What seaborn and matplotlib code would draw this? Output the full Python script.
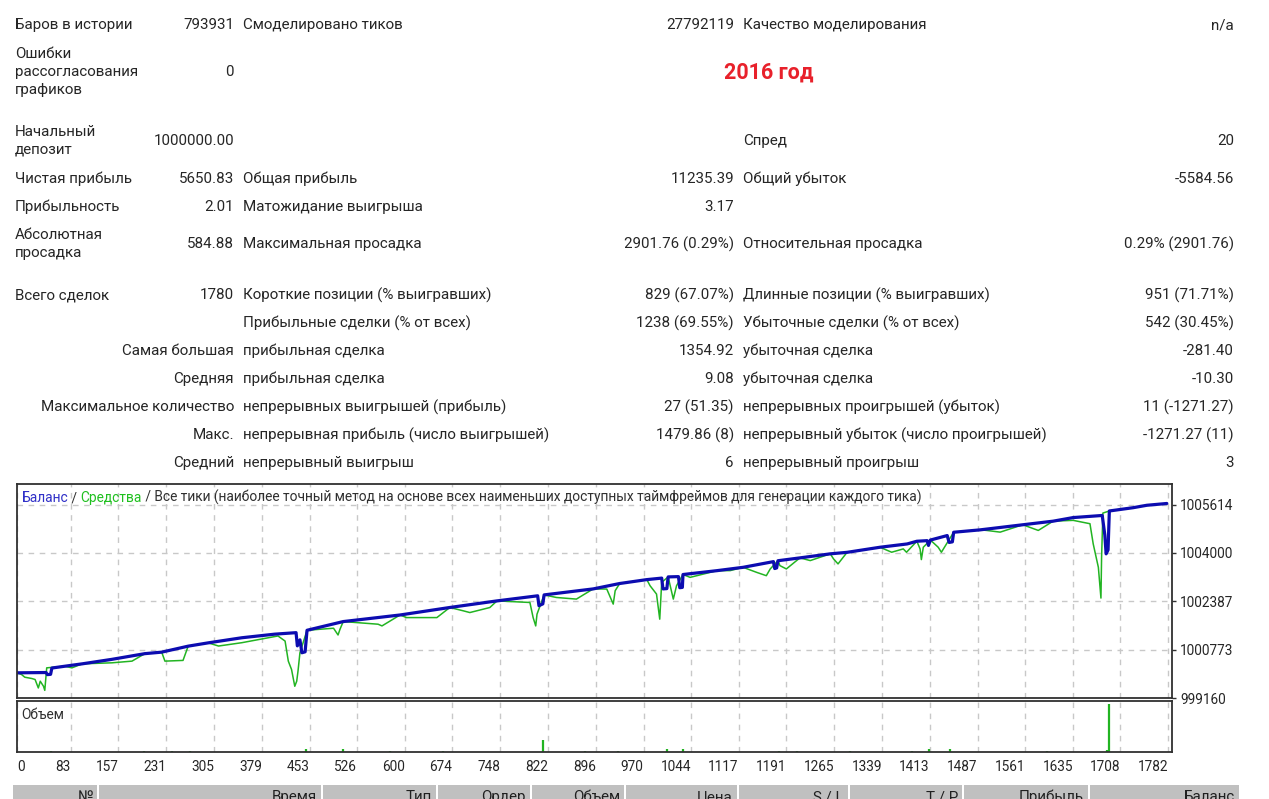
import numpy as np
import pandas as pd
import matplotlib
matplotlib.use("Agg")
import matplotlib.pyplot as plt
import seaborn as sns
from matplotlib.patches import Rectangle

# ---- данные отчёта тестера ----
labels_a = ["Баров в истории", "Ошибки\nрассогласования\nграфиков", "Начальный\nдепозит", "Чистая прибыль",
            "Прибыльность", "Абсолютная\nпросадка", "Всего сделок", "", "Самая большая", "Средняя",
            "Максимальное количество", "Макс.", "Средний"]
values_a = ["793931", "0", "1000000.00", "5650.83", "2.01", "584.88", "1780", "", "", "", "", "", ""]
labels_b = ["Смоделировано тиков", "", "", "Общая прибыль", "Матожидание выигрыша", "Максимальная просадка",
            "Короткие позиции (% выигравших)", "Прибыльные сделки (% от всех)", "прибыльная сделка",
            "прибыльная сделка", "непрерывных выигрышей (прибыль)", "непрерывная прибыль (число выигрышей)",
            "непрерывный выигрыш"]
values_b = ["27792119", "", "", "11235.39", "3.17", "2901.76 (0.29%)", "829 (67.07%)", "1238 (69.55%)",
            "1354.92", "9.08", "27 (51.35)", "1479.86 (8)", "6"]
labels_c = ["Качество моделирования", "", "Спред", "Общий убыток", "", "Относительная просадка",
            "Длинные позиции (% выигравших)", "Убыточные сделки (% от всех)", "убыточная сделка",
            "убыточная сделка", "непрерывных проигрышей (убыток)", "непрерывный убыток (число проигрышей)",
            "непрерывный проигрыш"]
values_c = ["n/a", "", "20", "-5584.56", "", "0.29% (2901.76)", "951 (71.71%)", "542 (30.45%)", "-281.40",
            "-10.30", "11 (-1271.27)", "-1271.27 (11)", "3"]

# баланс (номер сделки, значение)
bal_trade = [0, 45, 47, 52, 54, 74, 101, 147, 198, 224, 265, 296, 348, 399, 432, 434, 438, 441, 446, 449,
             505, 593, 670, 743, 806, 808, 814, 816, 892, 933, 975, 998, 1000, 1006, 1008, 1024, 1026, 1030,
             1031, 1084, 1124, 1171, 1173, 1176, 1178, 1212, 1259, 1285, 1336, 1378, 1393, 1409, 1411, 1414,
             1440, 1443, 1448, 1450, 1491, 1557, 1604, 1635, 1680, 1684, 1686, 1689, 1691, 1728, 1749, 1780]
bal_value = [1000000, 1000010, 999940, 999950, 1000160, 1000220, 1000300, 1000450, 1000640, 1000690,
             1000890, 1001000, 1001170, 1001290, 1001340, 1000900, 1001100, 1000670, 1000700, 1001420,
             1001710, 1001930, 1002180, 1002400, 1002570, 1002240, 1002300, 1002600, 1002800, 1002980,
             1003110, 1003160, 1002800, 1002810, 1003200, 1003210, 1002840, 1002850, 1003280, 1003410,
             1003520, 1003710, 1003480, 1003500, 1003740, 1003835, 1003970, 1004020, 1004190, 1004300,
             1004390, 1004410, 1004250, 1004430, 1004580, 1004350, 1004370, 1004690, 1004770, 1004940,
             1005060, 1005180, 1005250, 1004600, 1003970, 1004100, 1005400, 1005510, 1005590, 1005650]

# средства
eq_trade = [0, 7, 12, 23, 28, 33, 36, 41, 43, 46, 74, 85, 101, 147, 178, 198, 224, 229, 257, 265, 296, 312,
            348, 404, 415, 420, 425, 430, 433, 435, 438, 449, 490, 497, 500, 505, 559, 565, 593, 603, 650,
            670, 691, 701, 732, 743, 794, 799, 803, 805, 816, 835, 866, 892, 913, 923, 926, 933, 975, 980,
            990, 995, 998, 1008, 1016, 1021, 1031, 1042, 1084, 1104, 1124, 1145, 1160, 1166, 1178, 1181,
            1191, 1212, 1228, 1259, 1264, 1271, 1285, 1336, 1354, 1372, 1377, 1393, 1398, 1400, 1403, 1414,
            1426, 1431, 1450, 1491, 1501, 1522, 1557, 1581, 1604, 1635, 1661, 1666, 1674, 1678, 1679, 1681,
            1691, 1728, 1749, 1780]
eq_value = [1000000, 999945, 999854, 999810, 999777, 999495, 999720, 999552, 999415, 1000166, 1000220,
            1000166, 1000300, 1000334, 1000390, 1000640, 1000690, 1000390, 1000414, 1000890, 1001000,
            1000894, 1001005, 1001230, 1001060, 1000390, 1000112, 999552, 999720, 1000055, 1000670, 1001420,
            1001488, 1001263, 1001454, 1001710, 1001622, 1001565, 1001930, 1001843, 1001843, 1002180,
            1002068, 1002011, 1002179, 1002400, 1002347, 1001843, 1001565, 1001957, 1002600, 1002514,
            1002460, 1002800, 1002795, 1002293, 1002739, 1002980, 1003110, 1002906, 1002628, 1001790,
            1003017, 1003200, 1002460, 1002906, 1003280, 1003185, 1003410, 1003410, 1003520, 1003352,
            1003241, 1003466, 1003740, 1003577, 1003466, 1003835, 1003745, 1003970, 1003802, 1003634,
            1004020, 1004190, 1004023, 1004135, 1004023, 1004390, 1004135, 1003778, 1004191, 1004430,
            1004191, 1004023, 1004690, 1004770, 1004751, 1004694, 1004940, 1004751, 1005060, 1005087,
            1004975, 1004305, 1003520, 1002494, 1003855, 1005330, 1005400, 1005510, 1005590, 1005650]

# объем
vol_trade = [53, 197, 240, 268, 447, 505, 577, 659, 815, 879, 930, 1007, 1031, 1180, 1207, 1289, 1385, 1412,
             1445, 1594, 1688, 1691]
vol_value = [0.25, 0.25, 0.25, 0.25, 0.8, 0.8, 0.25, 0.25, 3.0, 0.25, 0.25, 0.8, 0.8, 0.25, 0.25, 0.25,
             0.25, 0.8, 0.8, 0.25, 0.5, 12.0]

x_ticks = [0, 83, 157, 231, 305, 379, 453, 526, 600, 674, 748, 822, 896, 970, 1044, 1117, 1191, 1265, 1339,
           1413, 1487, 1561, 1635, 1708, 1782]
y_ticks = [999160, 1000773, 1002387, 1004000, 1005614]

table_cols = ["№", "Время", "Тип", "Ордер", "Объем", "Цена", "S / L", "T / P", "Прибыль", "Баланс"]

W, H = 1269, 799
BLUE = "#0c0cb0"
GREEN = "#22b422"

sns.set_style("white")
plt.rcParams["font.family"] = ["Roboto", "DejaVu Sans"]


def fx(px):
    return px / W


def fy(py):
    return 1 - py / H


fig = plt.figure(figsize=(12.69, 7.99), dpi=100)
fig.patch.set_facecolor("white")

# ---- таблица с показателями ----
row_y = [25, 72, 141, 179, 207, 244, 295, 323, 351, 379, 407, 435, 463]
fs = 10.9
for i, y in enumerate(row_y):
    if labels_a[i]:
        if i >= 8:
            fig.text(fx(234), fy(y), labels_a[i], ha="right", va="center", fontsize=fs)
        else:
            fig.text(fx(15), fy(y), labels_a[i], ha="left", va="center", fontsize=fs, linespacing=1.36)
    fig.text(fx(234), fy(y), values_a[i], ha="right", va="center", fontsize=fs)
    fig.text(fx(243), fy(y), labels_b[i], ha="left", va="center", fontsize=fs)
    fig.text(fx(734), fy(y), values_b[i], ha="right", va="center", fontsize=fs)
    fig.text(fx(743), fy(y), labels_c[i], ha="left", va="center", fontsize=fs)
    fig.text(fx(1234), fy(y), values_c[i], ha="right", va="center", fontsize=fs)

fig.text(fx(769), fy(73), "2016 год", ha="center", va="center", fontsize=15.5, fontweight="bold",
         color="#e8212b")

# ---- график баланса ----
ax = fig.add_axes([fx(17), fy(698), fx(1172 - 17), (698 - 484) / H])
ax2 = fig.add_axes([fx(17), fy(752), fx(1172 - 17), (752 - 701) / H])

eq = pd.DataFrame({"trade": eq_trade, "value": eq_value})
bal = pd.DataFrame({"trade": bal_trade, "value": bal_value})
sns.lineplot(data=eq, x="trade", y="value", ax=ax, color=GREEN, linewidth=1.1, estimator=None, sort=False)
sns.lineplot(data=bal, x="trade", y="value", ax=ax, color=BLUE, linewidth=2.3, estimator=None, sort=False)

ax.set_xlim(0, 1788)
ax.set_ylim(999160, 1006300)
ax.set_xticks(x_ticks)
ax.set_yticks(y_ticks)
ax.yaxis.tick_right()
ax.set_yticklabels([str(v) for v in y_ticks], fontsize=9.8)
ax.tick_params(axis="y", length=3, width=1, color="#303030", pad=3)
ax.tick_params(axis="x", length=0, labelbottom=False)
ax.grid(True, color="#c8c8c8", linestyle=(0, (4, 4)), linewidth=1)
ax.set_xlabel("")
ax.set_ylabel("")

lfs = 9.9
t1 = ax.text(0.004, 0.965, "Баланс", transform=ax.transAxes, ha="left", va="top", fontsize=lfs, color="#3030c8")
t2 = ax.annotate(" / ", xy=(1, 0), xycoords=t1, ha="left", va="bottom", fontsize=lfs, color="#303030")
t3 = ax.annotate("Средства", xy=(1, 0), xycoords=t2, ha="left", va="bottom", fontsize=lfs, color="#20c020")
ax.annotate(" / Все тики (наиболее точный метод на основе всех наименьших доступных таймфреймов для генерации каждого тика)",
            xy=(1, 0), xycoords=t3, ha="left", va="bottom", fontsize=lfs, color="#303030")

# ---- объем ----
ax2.vlines(vol_trade, 0, vol_value, color=GREEN, linewidth=1.6)
ax2.set_xlim(0, 1788)
ax2.set_ylim(0, 12.8)
ax2.set_yticks([])
ax2.set_xticks(x_ticks)
xl = ax2.set_xticklabels([str(v) for v in x_ticks], fontsize=9.8)
for k, lbl in enumerate(xl):
    lbl.set_ha("left" if k == 0 else "right")
ax2.tick_params(axis="x", length=3, width=1, color="#303030", pad=3)
ax2.grid(True, axis="x", color="#c8c8c8", linestyle=(0, (4, 4)), linewidth=1)
ax2.text(0.004, 0.86, "Объем", transform=ax2.transAxes, ha="left", va="top", fontsize=lfs, color="#303030")

for a in (ax, ax2):
    for s in a.spines.values():
        s.set_color("#303030")
        s.set_linewidth(1.3)

# ---- шапка таблицы сделок (обрезана краем, как в отчёте) ----
edges = [12, 98, 322, 437, 531, 625, 738, 849, 963, 1089, 1240]
for k, name in enumerate(table_cols):
    x0, x1 = edges[k], edges[k + 1]
    fig.patches.append(Rectangle((fx(x0 + 1), fy(799 + 5)), fx(x1 - x0 - 2), (799 + 5 - 785) / H,
                                 transform=fig.transFigure, facecolor="#c0c0c0", edgecolor="none"))
    fig.text(fx(x1 - 5), fy(797), name, ha="right", va="center", fontsize=fs, color="#202020")

fig.savefig("out.png", dpi=100)
